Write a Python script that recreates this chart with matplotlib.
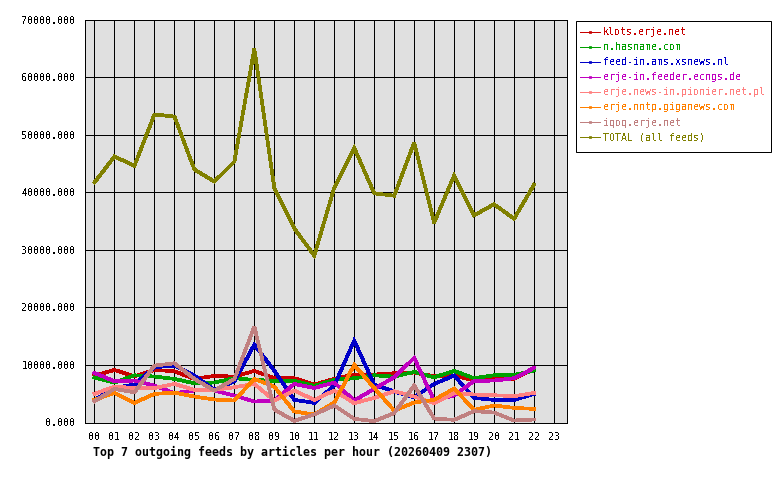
# chart of outgoing feeds per hour
import matplotlib
matplotlib.use('Agg')
import matplotlib.pyplot as plt
from matplotlib.lines import Line2D
from matplotlib.patches import Rectangle

plt.rcParams['font.family'] = 'DejaVu Sans Mono'
plt.rcParams['text.antialiased'] = False

horas = list(range(23))
etiquetas_x = ['%02d' % h for h in range(24)]
ticks_y = [0, 10000, 20000, 30000, 40000, 50000, 60000, 70000]

klots = [8150, 9130, 8030, 9130, 8900, 7570, 8090, 7980, 8960, 7690, 7690, 6590,
         7570, 8320, 8320, 8550, 8670, 8030, 8150, 7280, 7570, 7570, 9300]
hasname = [7800, 6940, 8200, 7980, 7570, 6820, 6940, 7690, 7400, 7230, 7230, 6360,
           7400, 7690, 8200, 7980, 8790, 7860, 8960, 7690, 8200, 8270, 9020]
xsnews = [3900, 6000, 6590, 9600, 9880, 8150, 5660, 7170, 13530, 9000, 3930, 3410,
          6400, 14220, 6590, 5380, 4390, 6700, 8150, 4280, 3930, 3930, 4970]
ecngs = [8610, 7170, 7280, 6420, 5090, 5550, 5550, 4680, 3640, 3820, 6700, 6000,
         6940, 3820, 5840, 7860, 11210, 3820, 4680, 7230, 7280, 7690, 9480]
pionier = [4970, 6240, 6000, 6000, 6700, 5660, 5660, 6130, 6700, 3820, 5550, 3930,
           5550, 3350, 4280, 5430, 4510, 3350, 5140, 4860, 4740, 4570, 5140]
giganews = [3930, 5140, 3410, 4970, 5200, 4510, 3990, 3820, 7570, 6240, 1910, 1390,
            3470, 10000, 6000, 2080, 3470, 3930, 5900, 2200, 2950, 2540, 2370]
iqoq = [3700, 5840, 5260, 9880, 10290, 7570, 5550, 7570, 16650, 2250, 290, 1390,
        2950, 640, 230, 1620, 6420, 690, 460, 1970, 1730, 350, 520]
total = [41700, 46200, 44600, 53500, 53150, 43950, 41860, 45300, 64900, 40800, 33700, 29000,
         40800, 47700, 39800, 39400, 48600, 34700, 42900, 36000, 37900, 35400, 41300]

nombres = ['klots.erje.net', 'n.hasname.com', 'feed-in.ams.xsnews.nl', 'erje-in.feeder.ecngs.de',
           'erje.news-in.pionier.net.pl', 'erje.nntp.giganews.com', 'iqoq.erje.net', 'TOTAL (all feeds)']
series = [klots, hasname, xsnews, ecngs, pionier, giganews, iqoq, total]
colores = ['#c80000', '#00a000', '#0000c8', '#c000c0', '#ff8080', '#ff8000', '#c08080', '#808000']

figura = plt.figure(figsize=(7.8, 4.8), dpi=100, facecolor='white')
ax = figura.add_axes([84.5 / 780, 1 - 422.5 / 480, (567 - 84.5) / 780, (422.5 - 19.5) / 480])
ax.set_facecolor('#e0e0e0')

for valores, color in zip(series, colores):
    ax.plot(horas, valores, color=color, lw=1.95, zorder=3, antialiased=False, solid_joinstyle='miter')

ax.set_xlim(-0.5, 23.65)
ax.set_ylim(0, 70000)
ax.set_xticks(range(24))
ax.set_xticklabels(etiquetas_x, fontsize=7.2)
ax.set_yticks(ticks_y)
ax.set_yticklabels(['%.3f' % t for t in ticks_y], fontsize=7.2)
ax.tick_params(axis='x', length=0, pad=6.5)
ax.tick_params(axis='y', length=0, pad=6.5)
ax.grid(True, color='black', lw=0.72, zorder=1, antialiased=False)
ax.set_axisbelow(True)
for lado in ax.spines.values():
    lado.set_linewidth(0.72)

figura.text(93 / 780, 1 - 452 / 480, 'Top 7 outgoing feeds by articles per hour (20260409 2307)',
            family='DejaVu Sans Mono', fontsize=8.4, fontweight='bold', va='center', ha='left',
            antialiased=True)

# marco de la leyenda aparte, el padding vertical es mayor que el horizontal
marco = Rectangle((576 / 780, 1 - 151.5 / 480), 195 / 780, 131 / 480, transform=figura.transFigure,
                  facecolor='white', edgecolor='black', lw=0.72, zorder=5)
figura.add_artist(marco)

manijas = [Line2D([0], [0], color=c, lw=0.72, marker='s', ms=2.0, mfc='none', mew=0.6, antialiased=False)
           for c in colores]
ley = figura.legend(manijas, nombres, loc='upper left', bbox_to_anchor=(580 / 780, 1 - 27 / 480),
                    borderaxespad=0, borderpad=0, frameon=False, fontsize=7.2,
                    labelcolor=colores, handlelength=2.0, handletextpad=0.3, labelspacing=0.51)
ley.set_zorder(6)

figura.savefig('out.png', dpi=100)
plt.close()
